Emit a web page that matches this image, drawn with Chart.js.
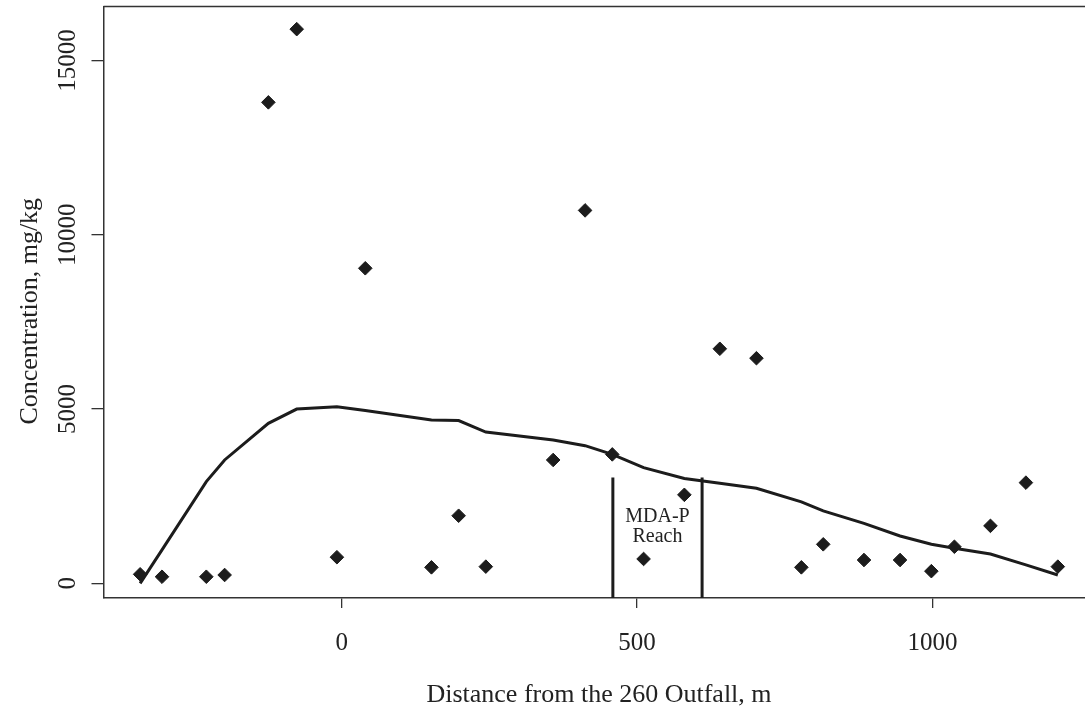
<!DOCTYPE html>
<html>
<head>
<meta charset="utf-8">
<title>Concentration vs distance</title>
<script src="https://cdn.jsdelivr.net/npm/chart.js@4"></script>
<style>
  html, body { margin: 0; padding: 0; background: #fff; }
  #wrap { width: 1085px; height: 711px; }
</style>
</head>
<body>
<div id="wrap"><canvas id="concChart" width="1085" height="711"></canvas></div>
<script>
// Sample locations, m from the outfall (negative = upstream)
const distance = [-341, -304, -229, -198, -124, -76, -8, 40, 152, 198, 244, 358, 412, 458,
  511, 580, 640, 702, 778, 815, 884, 945, 998, 1037, 1098, 1158, 1212];
// Measured concentration, mg/kg
const concentration = [260, 190, 190, 240, 13800, 15900, 750, 9040, 460, 1940, 480, 3540, 10700, 3700,
  700, 2540, 6730, 6460, 460, 1120, 670, 670, 350, 1050, 1650, 2890, 480];
// Smoothed trend at the same locations
const trend = [0, 960, 2920, 3540, 4590, 5000, 5070, 4960, 4690, 4670, 4340, 4110, 3950, 3700,
  3320, 3010, 2870, 2730, 2340, 2080, 1720, 1360, 1120, 1010, 840, 530, 240];

// MDA-P reach limits
const reachBounds = [459, 610];
const reachTop = 3040;
const reachLabel = ['MDA-P', 'Reach'];

const xTicks = [0, 500, 1000];
const yTicks = [0, 5000, 10000, 15000];
const xTitle = 'Distance from the 260 Outfall, m';
const yTitle = 'Concentration, mg/kg';

const ink = '#1c1c1c';
const serif = '"Liberation Serif", "Times New Roman", serif';

const reachSets = reachBounds.map(x => ({
  type: 'line',
  data: [{ x: x, y: -420 }, { x: x, y: reachTop }],
  borderColor: ink,
  borderWidth: 3,
  pointRadius: 0,
  order: 3
}));

// axis text, frame top and the reach label
const annotate = {
  id: 'annotate',
  afterDraw(chart) {
    const { ctx, chartArea: a, scales: { x, y } } = chart;
    ctx.save();

    ctx.strokeStyle = '#333';
    ctx.lineWidth = 1.5;
    ctx.beginPath();
    ctx.moveTo(a.left, a.top);
    ctx.lineTo(a.right, a.top);
    ctx.stroke();

    ctx.fillStyle = '#222';
    ctx.textAlign = 'center';
    ctx.textBaseline = 'middle';

    ctx.font = '25px ' + serif;
    x.ticks.forEach(t => ctx.fillText(String(t.value), x.getPixelForValue(t.value), 643));
    y.ticks.forEach(t => {
      ctx.save();
      ctx.translate(68, y.getPixelForValue(t.value));
      ctx.rotate(-Math.PI / 2);
      ctx.fillText(String(t.value), 0, 0);
      ctx.restore();
    });

    ctx.font = '26px ' + serif;
    ctx.fillText(xTitle, 599, 695);
    ctx.save();
    ctx.translate(30, (a.top + a.bottom) / 2 + 9);
    ctx.rotate(-Math.PI / 2);
    ctx.fillText(yTitle, 0, 0);
    ctx.restore();

    ctx.font = '20px ' + serif;
    const cx = x.getPixelForValue((reachBounds[0] + reachBounds[1]) / 2);
    ctx.fillText(reachLabel[0], cx, 517);
    ctx.fillText(reachLabel[1], cx, 537);

    ctx.restore();
  }
};

new Chart(document.getElementById('concChart'), {
  data: {
    datasets: [
      {
        type: 'scatter',
        data: distance.map((d, i) => ({ x: d, y: concentration[i] })),
        backgroundColor: ink,
        borderColor: ink,
        borderWidth: 1,
        pointStyle: 'rectRot',
        pointRadius: 6.8,
        order: 1
      },
      {
        type: 'line',
        data: distance.map((d, i) => ({ x: d, y: trend[i] })),
        borderColor: ink,
        borderWidth: 3,
        pointRadius: 0,
        tension: 0,
        order: 2
      },
      ...reachSets
    ]
  },
  options: {
    responsive: false,
    animation: false,
    layout: { autoPadding: false, padding: { top: 6.5, right: 0, left: 0, bottom: 0 } },
    plugins: { legend: { display: false }, tooltip: { enabled: false } },
    scales: {
      x: {
        type: 'linear',
        min: -403,
        max: 1258,
        afterBuildTicks: s => { s.ticks = xTicks.map(v => ({ value: v })); },
        afterFit: s => { s.height = 113; },
        ticks: { display: false },
        grid: { display: true, drawOnChartArea: false, drawTicks: true, tickLength: 10, color: '#333', lineWidth: 1.3 },
        border: { display: true, color: '#333', width: 1.5 }
      },
      y: {
        type: 'linear',
        min: -420,
        max: 16550,
        afterBuildTicks: s => { s.ticks = yTicks.map(v => ({ value: v })); },
        afterFit: s => { s.width = 103.5; },
        ticks: { display: false },
        grid: { display: true, drawOnChartArea: false, drawTicks: true, tickLength: 12, color: '#333', lineWidth: 1.3 },
        border: { display: true, color: '#333', width: 1.5 }
      }
    }
  },
  plugins: [annotate]
});
</script>
</body>
</html>
